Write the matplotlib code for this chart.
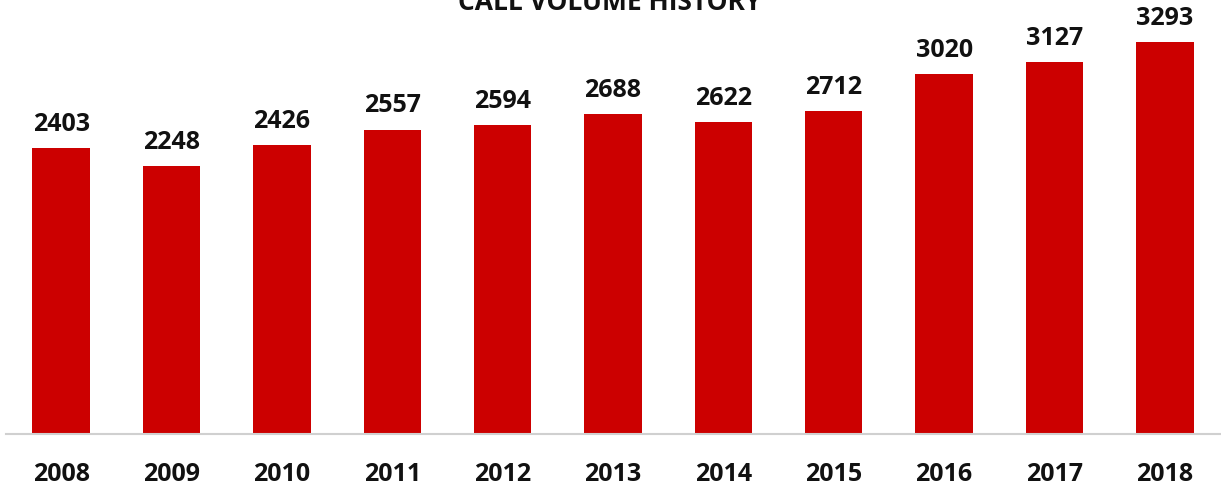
import matplotlib
matplotlib.use("Agg")
import matplotlib.pyplot as plt

years = ["2008", "2009", "2010", "2011", "2012", "2013", "2014", "2015", "2016", "2017", "2018"]
calls = [2403, 2248, 2426, 2557, 2594, 2688, 2622, 2712, 3020, 3127, 3293]
title = "CALL VOLUME HISTORY"

W, H = 1221, 488
fig = plt.figure(figsize=(W / 100, H / 100), dpi=100)
left, right = 6 / W, 1220 / W
bottom = 1 - 434 / H
top_px = 5.4
ax = fig.add_axes([left, bottom, right - left, (434 - top_px) / H])

font = "Open Sans"
x = range(len(years))
bars = ax.bar(x, calls, width=0.52, color="#CC0000", zorder=2)
ax.set_xlim(-0.5, len(years) - 0.5)
ax.set_ylim(0, 3600)

for xi, v in zip(x, calls):
    ax.annotate(f"{v}", (xi, v), xytext=(0, 8), textcoords="offset points",
                ha="center", va="bottom", fontsize=18, fontweight="bold",
                family=font, color="#111111")

ax.set_xticks(list(x))
ax.set_xticklabels(years, fontsize=18, fontweight="bold", family=font, color="#111111")
ax.tick_params(axis="x", length=0, pad=20)
ax.set_yticks([])
for s in ["top", "right", "left"]:
    ax.spines[s].set_visible(False)
ax.spines["bottom"].set_color("#d0d0d0")
ax.spines["bottom"].set_linewidth(1.5)

fig.text(610 / W, 1 - 10 / H, title, ha="center", va="baseline", fontsize=19,
         fontweight="bold", family=font, color="#111111")

fig.savefig("out.png", dpi=100)
